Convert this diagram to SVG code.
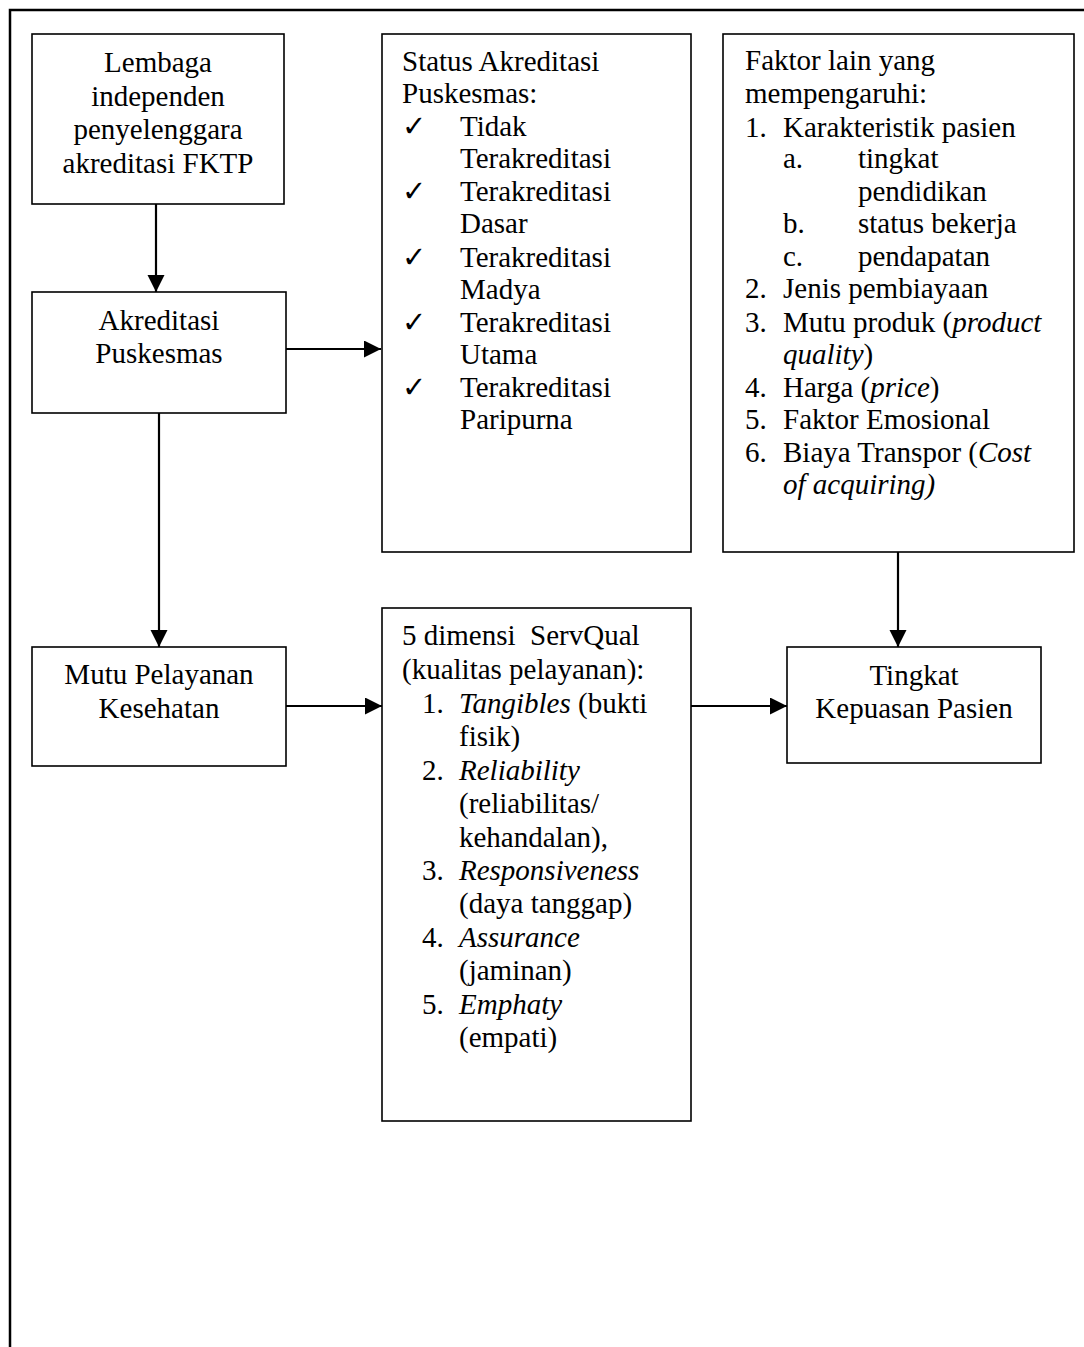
<svg xmlns="http://www.w3.org/2000/svg" width="1084" height="1347" viewBox="0 0 1084 1347">
<defs>
<style>
text{font-family:"Liberation Serif","Times New Roman",serif;font-size:29px;fill:#000;white-space:pre}
.c{text-anchor:middle}
.i{font-style:italic}
.box{fill:#fff;stroke:#000;stroke-width:1.6}
.ln{stroke:#000;stroke-width:2.2;fill:none}
</style>
<marker id="ah" markerUnits="userSpaceOnUse" markerWidth="18" markerHeight="18" refX="17" refY="8.5" orient="auto">
<path d="M0,0 L17,8.5 L0,17 Z" fill="#000"/>
</marker>
</defs>
<rect width="1084" height="1347" fill="#fff"/>
<path d="M10,1347 V10 H1084" fill="none" stroke="#000" stroke-width="2.5"/>

<g id="n-lembaga">
<rect class="box" x="32" y="34" width="252" height="170"/>
<text class="c" x="158" y="72">Lembaga</text>
<text class="c" x="158" y="106">independen</text>
<text class="c" x="158" y="139">penyelenggara</text>
<text class="c" x="158" y="173">akreditasi FKTP</text>
</g>

<g id="n-akreditasi">
<rect class="box" x="32" y="292" width="254" height="121"/>
<text class="c" x="159" y="330">Akreditasi</text>
<text class="c" x="159" y="363">Puskesmas</text>
</g>

<g id="n-status">
<rect class="box" x="382" y="34" width="309" height="518"/>
<text x="402" y="71">Status Akreditasi</text>
<text x="402" y="103">Puskesmas:</text>
<text x="402" y="136">✓</text><text x="460" y="136">Tidak</text>
<text x="460" y="168">Terakreditasi</text>
<text x="402" y="201">✓</text><text x="460" y="201">Terakreditasi</text>
<text x="460" y="233">Dasar</text>
<text x="402" y="267">✓</text><text x="460" y="267">Terakreditasi</text>
<text x="460" y="299">Madya</text>
<text x="402" y="332">✓</text><text x="460" y="332">Terakreditasi</text>
<text x="460" y="364">Utama</text>
<text x="402" y="397">✓</text><text x="460" y="397">Terakreditasi</text>
<text x="460" y="429">Paripurna</text>
</g>

<g id="n-faktor">
<rect class="box" x="723" y="34" width="351" height="518"/>
<text x="745" y="70">Faktor lain yang</text>
<text x="745" y="103">mempengaruhi:</text>
<text x="745" y="137">1.</text><text x="783" y="137">Karakteristik pasien</text>
<text x="783" y="168">a.</text><text x="858" y="168">tingkat</text>
<text x="858" y="201">pendidikan</text>
<text x="783" y="233">b.</text><text x="858" y="233">status bekerja</text>
<text x="783" y="266">c.</text><text x="858" y="266">pendapatan</text>
<text x="745" y="298">2.</text><text x="783" y="298">Jenis pembiayaan</text>
<text x="745" y="332">3.</text><text x="783" y="332">Mutu produk (<tspan class="i">product</tspan></text>
<text x="783" y="364"><tspan class="i">quality</tspan>)</text>
<text x="745" y="397">4.</text><text x="783" y="397">Harga (<tspan class="i">price</tspan>)</text>
<text x="745" y="429">5.</text><text x="783" y="429">Faktor Emosional</text>
<text x="745" y="462">6.</text><text x="783" y="462">Biaya Transpor (<tspan class="i">Cost</tspan></text>
<text x="783" y="494" class="i">of acquiring)</text>
</g>

<g id="n-mutu">
<rect class="box" x="32" y="647" width="254" height="119"/>
<text class="c" x="159" y="684">Mutu Pelayanan</text>
<text class="c" x="159" y="718">Kesehatan</text>
</g>

<g id="n-servqual">
<rect class="box" x="382" y="608" width="309" height="513"/>
<text x="402" y="645">5 dimensi  ServQual</text>
<text x="402" y="679">(kualitas pelayanan):</text>
<text x="422" y="713">1.</text><text x="459" y="713"><tspan class="i">Tangibles</tspan> (bukti</text>
<text x="459" y="746">fisik)</text>
<text x="422" y="780">2.</text><text x="459" y="780" class="i">Reliability</text>
<text x="459" y="813">(reliabilitas/</text>
<text x="459" y="847">kehandalan),</text>
<text x="422" y="880">3.</text><text x="459" y="880" class="i">Responsiveness</text>
<text x="459" y="913">(daya tanggap)</text>
<text x="422" y="947">4.</text><text x="459" y="947" class="i">Assurance</text>
<text x="459" y="980">(jaminan)</text>
<text x="422" y="1014">5.</text><text x="459" y="1014" class="i">Emphaty</text>
<text x="459" y="1047">(empati)</text>
</g>

<g id="n-tingkat">
<rect class="box" x="787" y="647" width="254" height="116"/>
<text class="c" x="914" y="685">Tingkat</text>
<text class="c" x="914" y="718">Kepuasan Pasien</text>
</g>

<g id="connectors">
<line class="ln" x1="156" y1="204" x2="156" y2="292" marker-end="url(#ah)"/>
<line class="ln" x1="286" y1="349" x2="381" y2="349" marker-end="url(#ah)"/>
<line class="ln" x1="159" y1="413" x2="159" y2="647" marker-end="url(#ah)"/>
<line class="ln" x1="286" y1="706" x2="382" y2="706" marker-end="url(#ah)"/>
<line class="ln" x1="691" y1="706" x2="787" y2="706" marker-end="url(#ah)"/>
<line class="ln" x1="898" y1="552" x2="898" y2="647" marker-end="url(#ah)"/>
</g>
</svg>
